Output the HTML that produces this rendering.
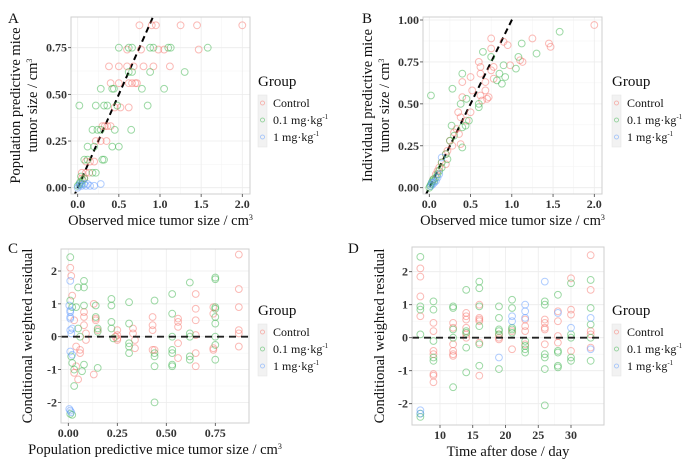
<!DOCTYPE html>
<html><head><meta charset="utf-8">
<style>
body{margin:0;background:#fff;}
svg{display:block;font-family:"Liberation Serif",serif;}
</style></head>
<body>
<svg id="fig" width="685" height="463" viewBox="0 0 685 463"></svg>
<script>
// ---- Panel A data: [observed, population predicted]
const aControl=[[0.75,0.87],[0.9,0.87],[0.95,0.87],[1.25,0.87],[1.45,0.87],[2.0,0.87],[0.6,0.74],[0.77,0.74],[0.98,0.74],[1.05,0.74],[1.47,0.74],[0.38,0.65],[0.5,0.65],[0.6,0.65],[0.68,0.65],[0.8,0.65],[0.92,0.65],[1.12,0.65],[0.4,0.56],[0.5,0.56],[0.62,0.56],[0.66,0.56],[0.7,0.56],[0.72,0.56],[0.45,0.43],[0.52,0.43],[0.62,0.43],[0.3,0.33],[0.33,0.33],[0.36,0.33],[0.4,0.33],[0.22,0.25],[0.28,0.25],[0.35,0.25],[0.1,0.14],[0.15,0.14],[0.2,0.14],[0.05,0.08],[0.1,0.08],[0.14,0.08],[0.05,0.05],[0.08,0.05]];
const aLow=[[0.5,0.75],[0.62,0.75],[0.66,0.75],[0.88,0.75],[0.92,0.75],[1.1,0.75],[1.13,0.75],[1.58,0.75],[0.62,0.62],[0.66,0.62],[0.88,0.62],[1.3,0.62],[0.28,0.53],[0.42,0.53],[0.44,0.53],[0.78,0.53],[1.05,0.53],[0.02,0.44],[0.22,0.44],[0.32,0.44],[0.36,0.44],[0.48,0.44],[0.85,0.44],[0.18,0.31],[0.24,0.31],[0.28,0.31],[0.45,0.31],[0.65,0.31],[0.12,0.22],[0.2,0.22],[0.42,0.22],[0.5,0.22],[0.08,0.15],[0.12,0.15],[0.3,0.15],[0.32,0.15],[0.18,0.08],[0.22,0.08],[0.04,0.06],[0.06,0.04],[0.03,0.03],[0.02,0.02],[0.05,0.02],[0.0,0.01],[0.08,0.05]];
const aHigh=[[0.02,0.01],[0.05,0.01],[0.08,0.02],[0.1,0.01],[0.12,0.02],[0.15,0.01],[0.2,0.01],[0.28,0.02],[0.0,0.0],[0.03,0.02]];
// ---- Panel B data: [observed, individual predicted]
const bControl=[[0.75,0.89],[0.75,0.83],[0.9,0.87],[0.95,0.85],[1.25,0.89],[1.45,0.86],[1.47,0.84],[2.0,0.97],[0.6,0.75],[0.62,0.72],[0.62,0.68],[0.75,0.7],[0.78,0.72],[0.98,0.73],[1.1,0.76],[1.13,0.75],[0.4,0.54],[0.4,0.63],[0.5,0.66],[0.52,0.58],[0.62,0.55],[0.64,0.52],[0.68,0.58],[0.7,0.53],[0.72,0.54],[0.68,0.63],[0.78,0.65],[0.35,0.45],[0.38,0.42],[0.5,0.45],[0.45,0.4],[0.3,0.33],[0.33,0.35],[0.36,0.32],[0.25,0.28],[0.28,0.25],[0.38,0.26],[0.2,0.2],[0.22,0.22],[0.15,0.15],[0.1,0.1],[0.12,0.12],[0.08,0.08],[0.05,0.05],[0.2,0.14]];
const bLow=[[1.58,0.93],[1.3,0.8],[1.12,0.86],[1.08,0.78],[1.05,0.71],[0.65,0.81],[0.75,0.78],[0.4,0.68],[0.85,0.68],[0.9,0.73],[0.92,0.66],[0.88,0.62],[0.82,0.64],[0.28,0.59],[0.02,0.55],[0.38,0.5],[0.45,0.53],[0.6,0.5],[0.6,0.48],[0.48,0.4],[0.44,0.37],[0.4,0.36],[0.27,0.37],[0.4,0.24],[0.25,0.28],[0.3,0.31],[0.2,0.2],[0.22,0.17],[0.15,0.15],[0.12,0.1],[0.1,0.08],[0.08,0.06],[0.05,0.05],[0.04,0.04],[0.03,0.03],[0.02,0.02],[0.01,0.01],[0.0,0.0],[0.06,0.04],[0.15,0.12]];
const bHigh=[[0.15,0.18],[0.02,0.01],[0.04,0.02],[0.06,0.03],[0.08,0.04],[0.1,0.06],[0.03,0.03],[0.12,0.08]];
// ---- Panel C data: [population predicted, CWRES]
const cControl=[[0.01,2.1],[0.015,1.85],[0.02,1.25],[0.03,0.5],[0.04,-0.3],[0.04,-0.9],[0.03,-1.1],[0.05,-1.3],[0.06,-0.4],[0.06,-0.5],[0.08,0.75],[0.08,0.6],[0.08,0.35],[0.09,0.1],[0.09,-0.1],[0.13,1.0],[0.14,0.55],[0.14,0.5],[0.13,-1.15],[0.15,0.2],[0.25,0.2],[0.25,0.05],[0.25,-0.05],[0.24,0.0],[0.25,-0.1],[0.33,0.25],[0.33,0.1],[0.34,-0.1],[0.34,-0.35],[0.43,0.6],[0.43,0.35],[0.43,0.2],[0.43,-0.4],[0.44,-0.4],[0.56,0.55],[0.56,0.45],[0.56,0.3],[0.56,-0.2],[0.56,-0.65],[0.65,1.3],[0.65,0.85],[0.65,0.5],[0.65,0.05],[0.65,-0.5],[0.65,-0.9],[0.74,0.9],[0.74,0.7],[0.74,-0.35],[0.74,-0.4],[0.87,2.5],[0.87,1.45],[0.87,0.9],[0.87,0.2],[0.87,0.1],[0.87,-0.3]];
const cLow=[[0.01,2.42],[0.01,1.1],[0.02,0.9],[0.015,-0.6],[0.02,-0.8],[0.03,-1.0],[0.03,-1.5],[0.04,0.9],[0.05,0.25],[0.05,1.5],[0.06,0.0],[0.07,-1.05],[0.08,1.7],[0.08,1.5],[0.08,0.95],[0.08,-0.85],[0.14,0.95],[0.14,0.6],[0.15,0.25],[0.15,0.15],[0.15,-0.95],[0.22,1.15],[0.22,0.95],[0.22,0.45],[0.22,0.25],[0.23,-0.05],[0.31,1.05],[0.31,0.4],[0.31,-0.2],[0.31,-0.3],[0.31,-0.5],[0.44,1.1],[0.44,-0.5],[0.44,-0.6],[0.44,-0.9],[0.44,-2.0],[0.53,1.3],[0.53,0.7],[0.53,0.0],[0.53,-0.4],[0.53,-0.5],[0.53,-0.85],[0.53,-0.9],[0.62,1.65],[0.62,0.1],[0.62,0.0],[0.62,-0.6],[0.62,-0.7],[0.75,1.8],[0.75,1.75],[0.75,0.9],[0.75,0.85],[0.75,0.6],[0.75,0.4],[0.75,0.0],[0.75,-0.25],[0.75,-0.7],[0.01,-2.35],[0.02,-2.38]];
const cHigh=[[0.01,1.7],[0.005,0.95],[0.01,0.8],[0.01,0.75],[0.01,0.6],[0.01,0.55],[0.01,0.2],[0.015,0.1],[0.02,0.25],[0.01,-0.45],[0.02,-0.55],[0.005,-2.2],[0.01,-2.25],[0.015,-2.3]];
// ---- Panel D data: [day, CWRES]
const dControl=[[7,2.1],[7,1.85],[7,1.25],[7,0.65],[9,0.45],[9,0.2],[9,-0.4],[9,-0.5],[9,-1.1],[9,-1.15],[9,-1.35],[12,0.45],[12,0.3],[12,-0.2],[12,-0.4],[12,-0.5],[12,-0.55],[14,0.75],[14,0.65],[14,0.55],[14,0.3],[14,0.1],[14,0.0],[16,1.0],[16,0.6],[16,0.5],[16,0.55],[16,-0.15],[16,-1.15],[19,0.0],[19,-0.05],[19,0.1],[21,-0.35],[21,0.2],[23,0.55],[23,0.35],[23,0.2],[23,-0.2],[26,0.55],[26,0.45],[26,0.3],[26,0.25],[26,-0.2],[28,0.8],[28,0.5],[28,0.05],[28,-0.15],[30,1.8],[30,0.85],[30,0.7],[30,-0.4],[33,2.5],[33,1.45],[33,0.2],[33,0.1],[33,-0.3]];
const dLow=[[7,2.45],[7,0.95],[7,0.85],[7,0.1],[7,-2.3],[7,-2.4],[9,1.1],[9,0.85],[9,-0.1],[9,-0.6],[9,-0.7],[12,0.95],[12,0.9],[12,0.25],[12,0.0],[12,-1.5],[14,1.45],[14,0.2],[14,0.15],[14,-0.3],[14,-1.05],[16,1.7],[16,1.5],[16,0.95],[16,0.35],[16,-0.2],[16,-0.85],[19,0.95],[19,0.6],[19,0.25],[19,0.2],[19,0.1],[19,-0.95],[21,1.15],[21,0.9],[21,0.3],[21,0.25],[21,0.15],[23,-0.1],[23,-0.25],[23,-0.35],[23,-0.45],[26,1.1],[26,1.0],[26,-0.5],[26,-0.6],[26,-0.95],[26,-2.05],[28,1.3],[28,-0.4],[28,-0.45],[28,-0.85],[28,-0.9],[30,1.65],[30,0.1],[30,0.0],[30,-0.6],[30,-0.7],[33,1.75],[33,0.9],[33,0.4],[33,0.0],[33,-0.7]];
const dHigh=[[7,-2.2],[7,-2.3],[19,-0.6],[21,0.65],[21,0.5],[23,1.0],[23,0.8],[23,0.6],[26,1.7],[28,0.75],[30,0.3],[33,0.6],[33,-0.35]];
// tick labels
const ticksXA=[0,0.5,1.0,1.5,2.0];
const ticksYA=[0,0.25,0.5,0.75];
const ticksYB=[0,0.25,0.5,0.75,1.0];
const ticksXC=[0,0.25,0.5,0.75];
const ticksYC=[-2,-1,0,1,2];
const ticksXD=[10,15,20,25,30];
const groupNames=["Control","0.1 mg·kg","1 mg·kg"];
const groupSup=["","-1","-1"];
const colors=["#F8766D","#3CB44B","#619CFF"];

const NS="http://www.w3.org/2000/svg";
const svg=document.getElementById("fig");
function mk(tag,attrs,parent){const e=document.createElementNS(NS,tag);for(const k in attrs)e.setAttribute(k,attrs[k]);(parent||svg).appendChild(e);return e;}

function panel(cfg){
  const g=mk("g",{});
  
  
  const sx=v=>cfg.x0px+(v-cfg.x0)*(cfg.x1px-cfg.x0px)/(cfg.x1-cfg.x0);
  const sy=v=>cfg.y0px+(v-cfg.y0)*(cfg.y1px-cfg.y0px)/(cfg.y1-cfg.y0);
  const L=cfg.box[0],T=cfg.box[1],R=cfg.box[2],B=cfg.box[3];
  const bg=mk("rect",{x:L,y:T,width:R-L,height:B-T,fill:"#fff"},g);
  
  
  const mids=(arr)=>{const m=[];for(let i=0;i<arr.length-1;i++)m.push((arr[i]+arr[i+1])/2);return m;};
  mids(cfg.xt).forEach(v=>mk("line",{x1:sx(v),x2:sx(v),y1:T,y2:B,stroke:"#f3f3f3","stroke-width":0.5},g));
  mids(cfg.yt).forEach(v=>mk("line",{y1:sy(v),y2:sy(v),x1:L,x2:R,stroke:"#f3f3f3","stroke-width":0.5},g));
  cfg.xt.forEach(v=>mk("line",{x1:sx(v),x2:sx(v),y1:T,y2:B,stroke:"#ececec","stroke-width":0.8},g));
  cfg.yt.forEach(v=>mk("line",{y1:sy(v),y2:sy(v),x1:L,x2:R,stroke:"#ececec","stroke-width":0.8},g));
  const cid="clip"+cfg.name;
  const cp=mk("clipPath",{id:cid},g);mk("rect",{x:L,y:T,width:R-L,height:B-T},cp);
  const pts=mk("g",{"clip-path":"url(#"+cid+")"},g);
  if(cfg.identity){
    const rl=mk("line",{x1:sx(-0.1),y1:sy(-0.1),x2:sx(1.2),y2:sy(1.2),stroke:"#000","stroke-width":2,"stroke-dasharray":"6,4"},pts);
    
    
  }
  cfg.series.forEach((s,gi)=>{
    s.forEach(p=>{
      const c=mk("circle",{cx:sx(p[0]),cy:sy(p[1]),r:3.4,fill:"none",stroke:colors[gi],"stroke-width":1,"stroke-opacity":0.5},pts);
      
      
    });
  });
  if(cfg.zero){
    const zl=mk("line",{x1:L,x2:R,y1:sy(0),y2:sy(0),stroke:"#222","stroke-width":1.8,"stroke-dasharray":"7,5"},pts);
    
    
  }
  mk("rect",{x:L,y:T,width:R-L,height:B-T,fill:"none",stroke:"#cfcfcf","stroke-width":1},g);
  cfg.xt.forEach(v=>{
    mk("line",{x1:sx(v),x2:sx(v),y1:B,y2:B+3,stroke:"#444","stroke-width":0.8},g);
    const t=mk("text",{x:sx(v),y:B+14,"text-anchor":"middle","font-size":12,"font-weight":"bold",fill:"#333"},g);
    t.textContent=cfg.xfmt(v);
    
    
  });
  cfg.yt.forEach(v=>{
    mk("line",{x1:L-3,x2:L,y1:sy(v),y2:sy(v),stroke:"#444","stroke-width":0.8},g);
    const t=mk("text",{x:L-4,y:sy(v)+4,"text-anchor":"end","font-size":12,"font-weight":"bold",fill:"#333"},g);
    t.textContent=cfg.yfmt(v);
    
    
  });
  const xt=mk("text",{x:(L+R)/2,y:B+31,"text-anchor":"middle","font-size":14.5,fill:"#111"},g);
  xt.innerHTML=cfg.xtitle;
  
  
  cfg.ytitle.forEach((line,i)=>{
    const yt=mk("text",{transform:`translate(${cfg.ytx[i]},${(T+B)/2}) rotate(-90)`,"text-anchor":"middle","font-size":14.5,fill:"#111"},g);
    yt.innerHTML=line;
    
    
  });
  const lb=mk("text",{x:cfg.label[0],y:cfg.label[1],"font-size":15,fill:"#111"},g);
  lb.textContent=cfg.name.slice(-1).toUpperCase();
  
  
  const lx=cfg.leg[0],ly=cfg.leg[1];
  const lg=mk("g",{},g);
  
  
  const ttl=mk("text",{x:lx,y:ly,"font-size":15,fill:"#111"},lg);ttl.textContent="Group";
  
  
  mk("rect",{x:lx,y:ly+9,width:9,height:52,fill:"#f2f2f2",stroke:"#e4e4e4","stroke-width":0.5},lg);
  groupNames.forEach((n,i)=>{
    const cy=ly+17+i*17;
    mk("circle",{cx:lx+4.5,cy:cy,r:2,fill:"none",stroke:colors[i],"stroke-opacity":0.6,"stroke-width":0.8},lg);
    const t=mk("text",{x:lx+15,y:cy+4,"font-size":12,fill:"#111"},lg);
    t.innerHTML=n+(groupSup[i]?`<tspan dy="-5" font-size="7">${groupSup[i]}</tspan>`:"");
    
    
  });
}
const f2=v=>v.toFixed(2), f1=v=>v.toFixed(1), f0=v=>String(v);
const cm='/ cm<tspan dy="-5" font-size="8">3</tspan>';
panel({name:"panel-a",box:[71,17,250,194],x0:0,x1:2,x0px:77.7,x1px:242.3,y0:0,y1:0.75,y0px:187.7,y1px:47.7,
  xt:ticksXA,yt:ticksYA,xfmt:f1,yfmt:f2,series:[aControl,aLow,aHigh],identity:true,
  xtitle:"Observed mice tumor size "+cm,ytitle:["Population predictive mice","tumor size "+cm],ytx:[20,37],label:[8,23],leg:[258,86]});
panel({name:"panel-b",box:[423,17,602,194],x0:0,x1:2,x0px:429.3,x1px:594.3,y0:0,y1:1,y0px:187.7,y1px:20,
  xt:ticksXA,yt:ticksYB,xfmt:f1,yfmt:f2,series:[bControl,bLow,bHigh],identity:true,
  xtitle:"Observed mice tumor size "+cm,ytitle:["Individual predictive mice","tumor size "+cm],ytx:[372,389],label:[362,23],leg:[612,86]});
panel({name:"panel-c",box:[61,249,249,423],x0:0,x1:0.75,x0px:68.3,x1px:215.3,y0:0,y1:2,y0px:336.7,y1px:271,
  xt:ticksXC,yt:ticksYC,xfmt:f2,yfmt:f0,series:[cControl,cLow,cHigh],zero:true,
  xtitle:"Population predictive mice tumor size "+cm,ytitle:["Conditional weighted residual"],ytx:[32],label:[8,253],leg:[258,315]});
panel({name:"panel-d",box:[412,247,604,425],x0:10,x1:30,x0px:440,x1px:571,y0:0,y1:2,y0px:337.7,y1px:271.7,
  xt:ticksXD,yt:ticksYC,xfmt:f0,yfmt:f0,series:[dControl,dLow,dHigh],zero:true,
  xtitle:"Time after dose / day",ytitle:["Conditional weighted residual"],ytx:[384],label:[348,253],leg:[612,315]});
</script>
</body></html>
